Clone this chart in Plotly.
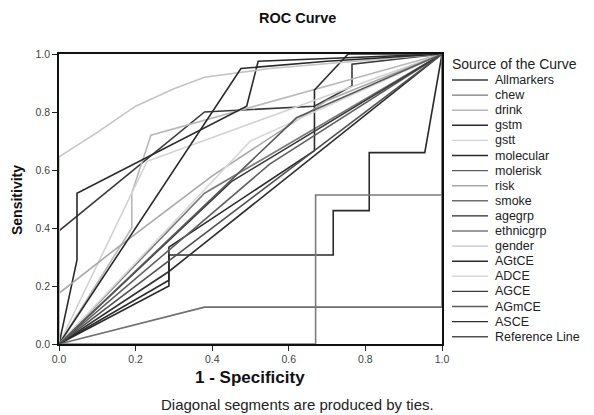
import plotly.graph_objects as go

# ---- data ----
series_names = ["Allmarkers", "chew", "drink", "gstm", "gstt", "molecular", "molerisk",
                "risk", "smoke", "agegrp", "ethnicgrp", "gender", "AGtCE", "ADCE",
                "AGCE", "AGmCE", "ASCE", "Reference Line"]

allmarkers_x = [0, 0, 0.38, 0.667, 0.765, 0.765, 1]
allmarkers_y = [0, 0.39, 0.80, 0.82, 0.89, 0.965, 1]
chew_x = [0, 0.38, 1]
chew_y = [0, 0.52, 1]
drink_x = [0, 0.19, 0.19, 0.24, 1]
drink_y = [0, 0.40, 0.52, 0.72, 1]
gstm_x = [0, 0.287, 0.287, 0.667, 0.667, 0.755, 1]
gstm_y = [0, 0.22, 0.334, 0.667, 0.876, 1.0, 1]
gstt_x = [0, 0.23, 1]
gstt_y = [0, 0.63, 1]
molecular_x = [0, 0.047, 0.047, 0.49, 0.52, 1]
molecular_y = [0, 0.29, 0.52, 0.82, 0.975, 1]
molerisk_x = [0, 0.55, 1]
molerisk_y = [0, 0.62, 1]
risk_x = [0, 0, 0.15, 0.40, 0.70, 1]
risk_y = [0, 0.175, 0.33, 0.58, 0.84, 1]
smoke_x = [0, 0.38, 1, 1]
smoke_y = [0, 0.127, 0.127, 1]
agegrp_x = [0, 0.287, 0.287, 0.716, 0.716, 0.81, 0.81, 0.955, 1]
agegrp_y = [0, 0.20, 0.307, 0.307, 0.46, 0.46, 0.66, 0.66, 1]
ethnicgrp_x = [0, 0.67, 0.67, 1, 1]
ethnicgrp_y = [0, 0, 0.514, 0.514, 1]
gender_x = [0, 0, 0.10, 0.20, 0.30, 0.38, 0.55, 1]
gender_y = [0, 0.645, 0.73, 0.82, 0.88, 0.92, 0.95, 1]
agtce_x = [0, 0.475, 0.70, 1]
agtce_y = [0, 0.95, 0.975, 1]
adce_x = [0, 0.50, 1]
adce_y = [0, 0.70, 1]
agce_x = [0, 0.45, 1]
agce_y = [0, 0.56, 1]
agmce_x = [0, 0.62, 1]
agmce_y = [0, 0.78, 1]
asce_x = [0, 0.287, 1]
asce_y = [0, 0.25, 1]
ref_x = [0, 1]
ref_y = [0, 1]

xs = [allmarkers_x, chew_x, drink_x, gstm_x, gstt_x, molecular_x, molerisk_x, risk_x,
      smoke_x, agegrp_x, ethnicgrp_x, gender_x, agtce_x, adce_x, agce_x, agmce_x,
      asce_x, ref_x]
ys = [allmarkers_y, chew_y, drink_y, gstm_y, gstt_y, molecular_y, molerisk_y, risk_y,
      smoke_y, agegrp_y, ethnicgrp_y, gender_y, agtce_y, adce_y, agce_y, agmce_y,
      asce_y, ref_y]

tick_vals = [0.0, 0.2, 0.4, 0.6, 0.8, 1.0]
tick_text = ["0.0", "0.2", "0.4", "0.6", "0.8", "1.0"]

# ---- styles ----
colors = ["#3a3a3a", "#7a7a7a", "#b8b8b8", "#2a2a2a", "#d2d2d2", "#2a2a2a", "#606060",
          "#a8a8a8", "#6e6e6e", "#2a2a2a", "#7a7a7a", "#c4c4c4", "#2a2a2a", "#d8d8d8",
          "#3a3a3a", "#5a5a5a", "#2e2e2e", "#505050"]

FONT = "Liberation Sans, Arial, sans-serif"
fig = go.Figure()
for name, x, y, c in zip(series_names, xs, ys, colors):
    fig.add_trace(go.Scatter(x=x, y=y, mode="lines", name=name,
                             line=dict(color=c, width=1.6), showlegend=False))

# page offset of the figure (browser body margin)
OFF = 8
# plot area in page pixels: x 59..442, y 54..344
L, R, T, B = 59 - OFF, 442 - OFF, 54 - OFF, 344 - OFF
W, H = 594 - OFF, 415 - OFF

def px(xp):
    return (xp - OFF - L) / (R - L)

def py(yp):
    return (B - (yp - OFF)) / (B - T)

annotations = []
shapes = []
# manual legend
annotations.append(dict(x=px(450), y=py(64), xref="paper", yref="paper", text="Source of the Curve",
                        showarrow=False, xanchor="left", yanchor="middle",
                        font=dict(family=FONT, size=14, color="#222")))
for i, (name, c) in enumerate(zip(series_names, colors)):
    yy = 80 + i * 15.1
    shapes.append(dict(type="line", xref="paper", yref="paper", x0=px(452), x1=px(488),
                       y0=py(yy), y1=py(yy), line=dict(color=c, width=1.4)))
    annotations.append(dict(x=px(493), y=py(yy), xref="paper", yref="paper", text=name,
                            showarrow=False, xanchor="left", yanchor="middle",
                            font=dict(family=FONT, size=12.5, color="#222")))

annotations.append(dict(x=px(297), y=py(18), xref="paper", yref="paper", text="<b>ROC Curve</b>",
                        showarrow=False, xanchor="center", yanchor="middle",
                        font=dict(family=FONT, size=14.5, color="#111")))
annotations.append(dict(x=px(17), y=py(200), xref="paper", yref="paper", text="<b>Sensitivity</b>",
                        showarrow=False, xanchor="center", yanchor="middle", textangle=-90,
                        font=dict(family=FONT, size=14, color="#111")))
annotations.append(dict(x=px(250), y=py(377), xref="paper", yref="paper", text="<b>1 - Specificity</b>",
                        showarrow=False, xanchor="center", yanchor="middle",
                        font=dict(family=FONT, size=17, color="#111")))
annotations.append(dict(x=px(297), y=py(404), xref="paper", yref="paper",
                        text="Diagonal segments are produced by ties.",
                        showarrow=False, xanchor="center", yanchor="middle",
                        font=dict(family=FONT, size=15, color="#222")))

axis_common = dict(range=[0, 1], tickvals=tick_vals, ticktext=tick_text, ticks="outside",
                   ticklen=5, tickwidth=1.2, tickcolor="#222", showgrid=False, zeroline=False,
                   showline=True, linecolor="#111", linewidth=1.5, mirror=True,
                   tickfont=dict(family=FONT, size=10.5, color="#444"))

fig.update_layout(
    width=W, height=H,
    margin=dict(l=L, r=W - R, t=T, b=H - B, pad=0),
    paper_bgcolor="white", plot_bgcolor="white",
    xaxis=dict(**axis_common),
    yaxis=dict(**axis_common),
    annotations=annotations, shapes=shapes,
    showlegend=False,
)
fig.write_html("out.html")
